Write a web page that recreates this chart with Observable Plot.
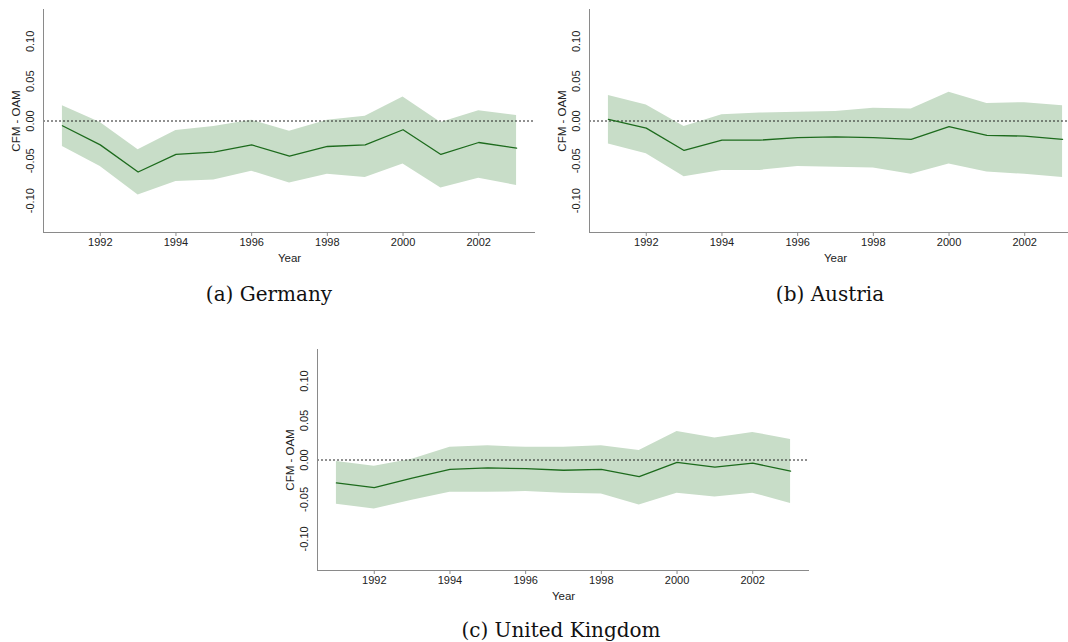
<!DOCTYPE html>
<html>
<head>
<meta charset="utf-8">
<script src="https://cdn.jsdelivr.net/npm/d3@7"></script>
<script src="https://cdn.jsdelivr.net/npm/@observablehq/plot@0.6"></script>
<style>
  html, body { margin: 0; padding: 0; background: #fff; }
  body { width: 1068px; height: 642px; position: relative; overflow: hidden; }
  .panel { position: absolute; width: 545px; }
  .panel svg { max-width: none !important; }
  .cap { position: absolute; font-family: "DejaVu Serif", serif; font-size: 20px; line-height: 20px; color: #111; white-space: nowrap; transform: translateX(-50%); }
</style>
</head>
<body>
<div id="pa" class="panel" style="left:0px;top:0px"></div>
<div id="pb" class="panel" style="left:546px;top:0px"></div>
<div id="pc" class="panel" style="left:274px;top:340px"></div>
<div class="cap" style="left:269px;top:284px">(a) Germany</div>
<div class="cap" style="left:830px;top:284px">(b) Austria</div>
<div class="cap" style="left:561px;top:620px">(c) United Kingdom</div>
<script>
const years = [1991, 1992, 1993, 1994, 1995, 1996, 1997, 1998, 1999, 2000, 2001, 2002, 2003];
const xTicks = [1992, 1994, 1996, 1998, 2000, 2002];
const yTicks = [-0.10, -0.05, 0.00, 0.05, 0.10];

// Germany
const deEst = [-0.006, -0.030, -0.064, -0.042, -0.039, -0.030, -0.044, -0.032, -0.030, -0.011, -0.042, -0.027, -0.034];
const deHi  = [0.019, -0.002, -0.036, -0.012, -0.007, 0.001, -0.013, 0.001, 0.006, 0.030, -0.002, 0.013, 0.007];
const deLo  = [-0.032, -0.057, -0.093, -0.076, -0.074, -0.063, -0.078, -0.067, -0.071, -0.054, -0.084, -0.072, -0.081];

// Austria
const atEst = [0.002, -0.009, -0.037, -0.024, -0.024, -0.021, -0.020, -0.021, -0.023, -0.007, -0.018, -0.019, -0.023];
const atHi  = [0.032, 0.020, -0.007, 0.008, 0.010, 0.011, 0.012, 0.016, 0.015, 0.036, 0.022, 0.023, 0.019];
const atLo  = [-0.029, -0.041, -0.070, -0.062, -0.062, -0.057, -0.058, -0.059, -0.067, -0.054, -0.064, -0.067, -0.071];

// United Kingdom
const ukEst = [-0.029, -0.035, -0.023, -0.012, -0.010, -0.011, -0.013, -0.012, -0.021, -0.003, -0.009, -0.004, -0.014];
const ukHi  = [-0.002, -0.008, 0.001, 0.016, 0.018, 0.016, 0.016, 0.018, 0.012, 0.036, 0.028, 0.035, 0.026];
const ukLo  = [-0.056, -0.062, -0.051, -0.041, -0.041, -0.040, -0.042, -0.043, -0.057, -0.042, -0.047, -0.042, -0.055];

const yLabel = "CFM - OAM";
const xLabel = "Year";

function panel(est, lo, hi, plotHeight) {
  const data = years.map((yr, i) => ({year: yr, est: est[i], lo: lo[i], hi: hi[i]}));
  const mt = 9, mb = 38;
  return Plot.plot({
    width: 545,
    height: mt + plotHeight + mb,
    marginLeft: 43,
    marginRight: 10,
    marginTop: mt,
    marginBottom: mb,
    style: {fontFamily: "'Liberation Sans', Arial, sans-serif", fontSize: "11px", color: "#222", background: "transparent", maxWidth: "none"},
    x: {domain: [1990.5, 2003.5]},
    y: {domain: [-0.14, 0.14], axis: null},
    marks: [
      Plot.areaY(data, {x: "year", y1: "lo", y2: "hi", fill: "#c8ddc8"}),
      Plot.ruleY([0], {stroke: "#222", strokeWidth: 1, strokeDasharray: "2,2"}),
      Plot.lineY(data, {x: "year", y: "est", stroke: "#1d6b1d", strokeWidth: 1.3}),
      Plot.ruleX([1990.5], {stroke: "#8a8a8a", strokeWidth: 1}),
      Plot.ruleY([-0.14], {stroke: "#8a8a8a", strokeWidth: 1}),
      Plot.axisX({ticks: xTicks, tickFormat: d => String(d), tickSize: 4, tickPadding: 2, label: null, stroke: "#8a8a8a", fill: "#222"}),
      Plot.text(yTicks, {y: d => d, text: d => d.toFixed(2), frameAnchor: "left", rotate: -90, dx: -13, textAnchor: "middle", lineAnchor: "middle", fill: "#222"}),
      Plot.text([yLabel], {text: d => d, frameAnchor: "left", rotate: -90, dx: -27, textAnchor: "middle", lineAnchor: "middle", fontSize: 11.5, fill: "#222"}),
      Plot.text([xLabel], {text: d => d, frameAnchor: "bottom", dy: 26, textAnchor: "middle", lineAnchor: "middle", fontSize: 11.5, fill: "#222"})
    ]
  });
}

document.getElementById("pa").appendChild(panel(deEst, deLo, deHi, 223));
document.getElementById("pb").appendChild(panel(atEst, atLo, atHi, 223));
document.getElementById("pc").appendChild(panel(ukEst, ukLo, ukHi, 221));
</script>
</body>
</html>
